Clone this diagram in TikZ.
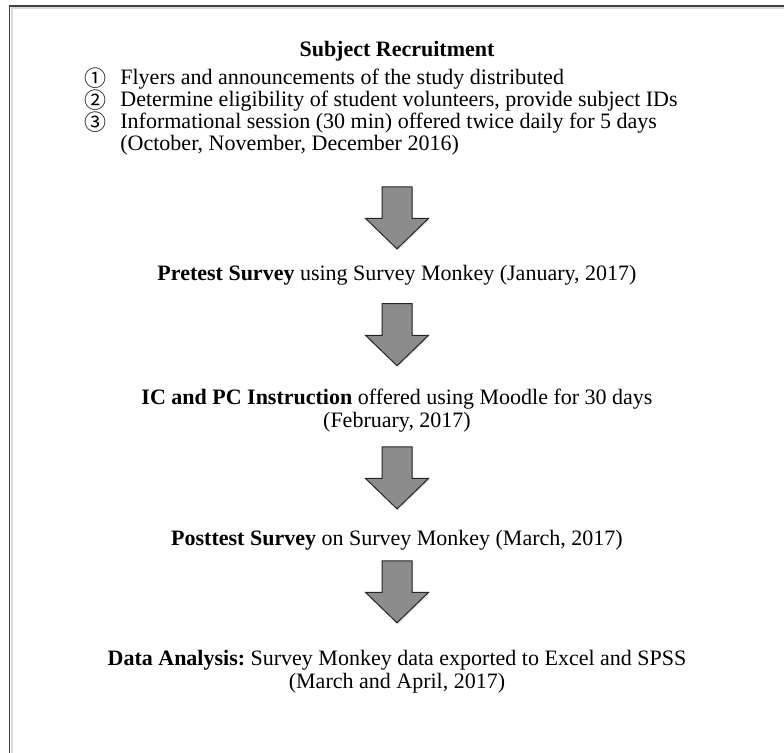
\documentclass[tikz,border=0pt]{standalone}
\usepackage{fontspec}
\setmainfont{Liberation Serif}
\newfontfamily\circfont{Noto Sans CJK JP}
\usetikzlibrary{positioning, shapes.arrows, shadows}

\newcommand{\circnum}[1]{\smash{\raisebox{-1pt}{\circfont\fontsize{11}{11}\selectfont #1}}}

\begin{document}
\frenchspacing
\begin{tikzpicture}[
    stage/.style={inner sep=0pt, align=center, font=\fontsize{11}{11.5}\selectfont},
    downarrow/.style={single arrow, shape border rotate=270, draw=black!85, line width=0.5pt,
        fill=black!45, minimum height=31pt, minimum width=31pt, inner sep=7.25pt,
        single arrow head extend=8.25pt, single arrow tip angle=92,
        drop shadow={shadow xshift=0.5pt, shadow yshift=-0.7pt, opacity=0.25}}
]
    \useasboundingbox (0,0) rectangle (392pt,-376.5pt);
    \draw[black!15, line width=1pt] (5.75pt,-376.5pt) -- (5.75pt,-4pt) -- (392pt,-4pt);
    \draw[black!75, line width=0.75pt] (4.75pt,-376.5pt) -- (4.75pt,-3pt) -- (392pt,-3pt);

    \node[stage, anchor=base] (title) at (198.5pt,-28.5pt) {\textbf{Subject Recruitment}};
    \node[stage, anchor=north west, font=\fontsize{11}{10.75}\selectfont] (steps) at (42pt,-34.5pt) {%
        \begin{tabular}{@{}p{18pt}@{}l@{}}
        \circnum{①} & Flyers and announcements of the study distributed\\
        \circnum{②} & Determine eligibility of student volunteers, provide subject IDs\\
        \circnum{③} & Informational session (30 min) offered twice daily for 5 days\\
                    & (October, November, December 2016)
        \end{tabular}};

    \node[downarrow, anchor=north] (a1) at ([yshift=-14.5pt]title |- steps.south) {};
    \node[stage, below=7.85pt of a1] (pretest) {\textbf{Pretest Survey} using Survey Monkey (January, 2017)};
    \node[downarrow, below=8.6pt of pretest] (a2) {};
    \node[stage, below=10.85pt of a2] (course) {\textbf{IC and PC Instruction} offered using Moodle for 30 days\\(February, 2017)};
    \node[downarrow, below=7.1pt of course] (a3) {};
    \node[stage, below=10.35pt of a3] (posttest) {\textbf{Posttest Survey} on Survey Monkey (March, 2017)};
    \node[downarrow, below=4.6pt of posttest] (a4) {};
    \node[stage, below=13.35pt of a4] (analysis) {\textbf{Data Analysis:} Survey Monkey data exported to Excel and SPSS\\(March and April, 2017)};
\end{tikzpicture}
\end{document}
